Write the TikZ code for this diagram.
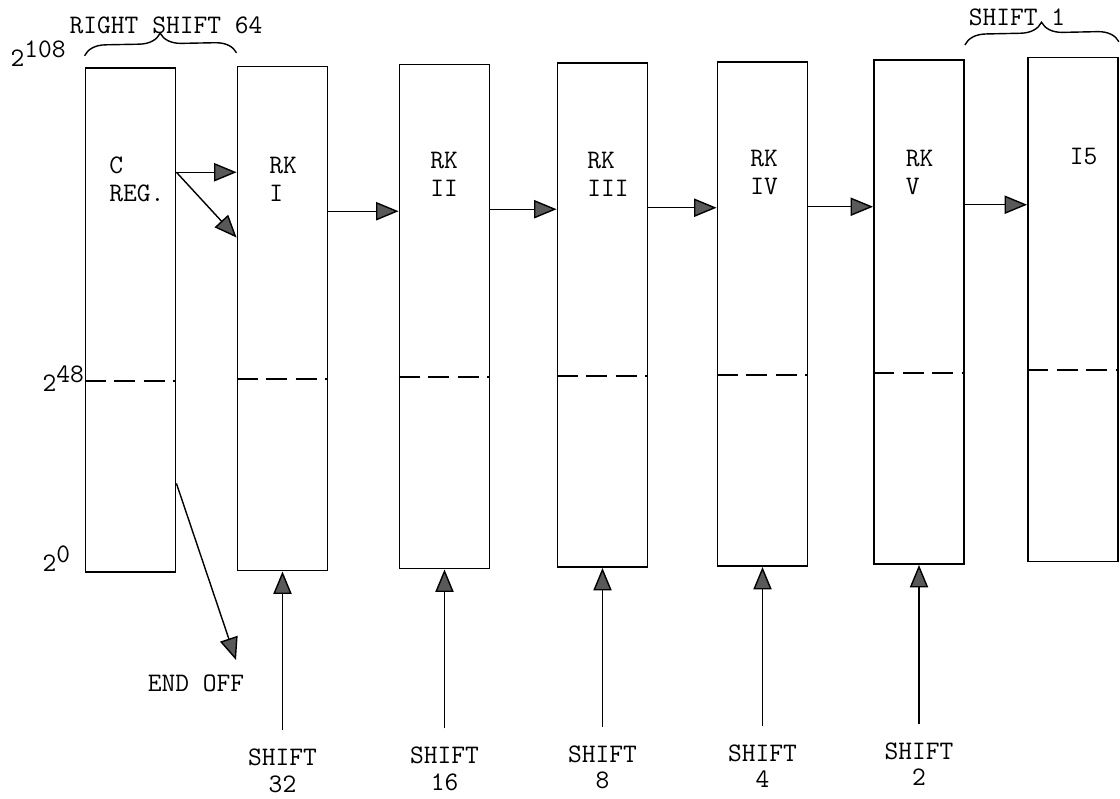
\documentclass[tikz,border=0pt]{standalone}
\usepackage{tikz}
\usetikzlibrary{arrows.meta, calc, decorations.pathreplacing}

\newcommand{\powtwo}[1]{2\raisebox{7pt}{#1}}

\begin{document}
\begin{tikzpicture}[x=0.025cm, y=-0.025cm, line width=1pt,
    font=\ttfamily\fontsize{19}{20}\selectfont,
    reg/.style={draw, line width=1.3pt, minimum width=2.25cm, minimum height=12.6cm, inner sep=0pt},
    regcut/.style={line width=1.3pt, dash pattern=on 15pt off 6pt},
    lbl/.style={inner sep=0pt, align=left, anchor=north west},
    shiftlbl/.style={inner sep=0pt, align=center, anchor=north, font=\ttfamily\fontsize{19}{19}\selectfont},
    arr/.style={-{Triangle[length=16pt, width=13pt, fill=black!65]}, line width=1pt}]
    \useasboundingbox (0,0) rectangle (1120,799);

    % Registers
    \node[reg] (creg) at (130.5,320) {};
    \node[reg] (rk1) at (282.5,318.5) {};
    \node[reg] (rk2) at (444.5,316.5) {};
    \node[reg] (rk3) at (602.5,315) {};
    \node[reg] (rk4) at (762.5,314) {};
    \node[reg] (rk5) at (919,312) {};
    \node[reg] (i5) at (1073,309.5) {};

    % 2^48 boundary
    \foreach \b in {creg,rk1,rk2,rk3,rk4,rk5,i5}
        \draw[regcut] ($(\b.north west)!0.62!(\b.south west)$) -- ($(\b.north east)!0.62!(\b.south east)$);

    % Register names
    \node[lbl] (tcreg) at ([shift={(24,89)}]creg.north west) {C\\REG.};
    \node[lbl] (trk1) at ([shift={(32,91)}]rk1.north west) {RK\\I};
    \node[lbl] (trk2) at ([shift={(31,88)}]rk2.north west) {RK\\II};
    \node[lbl] (trk3) at ([shift={(30,89)}]rk3.north west) {RK\\III};
    \node[lbl] (trk4) at ([shift={(33,88)}]rk4.north west) {RK\\IV};
    \node[lbl] (trk5) at ([shift={(32,90)}]rk5.north west) {RK\\V};
    \node[lbl] (ti5) at ([shift={(42,91)}]i5.north west) {I5};

    % Bit weights
    \node[inner sep=0pt, anchor=base west] (p108) at (10,67) {\powtwo{108}};
    \node[inner sep=0pt, anchor=base west] (p48) at (42,392) {\powtwo{48}};
    \node[inner sep=0pt, anchor=base west] (p0) at (42,572) {\powtwo{0}};

    % Transfers
    \draw[arr] ($(creg.north east)!0.208!(creg.south east)$) coordinate (c1) -- (c1 -| rk1.west);
    \draw[arr] (c1) -- ($(rk1.north west)!0.34!(rk1.south west)$);
    \foreach \a/\b in {rk1/rk2,rk2/rk3,rk3/rk4,rk4/rk5,rk5/i5}
        \draw[arr] ($(\a.north east)!0.288!(\a.south east)$) coordinate (s) -- (s -| \b.west);

    % End off
    \coordinate (eo) at (236,660);
    \node[inner sep=0pt] (endoff) at (196,683) {END OFF};
    \draw[arr] ($(creg.north east)!0.823!(creg.south east)$) -- (eo);

    % Shift controls
    \foreach \b/\n [count=\i] in {rk1/32,rk2/16,rk3/8,rk4/4,rk5/2} {
        \node[shiftlbl] (sh\i) at ([yshift=-4.42cm]\b.south) {SHIFT\\\n};
        \draw[arr] ([yshift=0.45cm]sh\i.north) -- (\b.south);
    }

    % Shift amounts
    \draw[decorate, decoration={brace, amplitude=15pt}] ([yshift=8pt]creg.north west) -- ([yshift=9pt]rk1.north west);
    \node[inner sep=0pt] (rs64) at (166,25) {RIGHT SHIFT 64};
    \draw[decorate, decoration={brace, amplitude=15pt}] ([yshift=10pt]rk5.north east) -- ([yshift=10.5pt]i5.north east);
    \node[inner sep=0pt] (s1) at (1017,17) {SHIFT 1};
\end{tikzpicture}
\end{document}
